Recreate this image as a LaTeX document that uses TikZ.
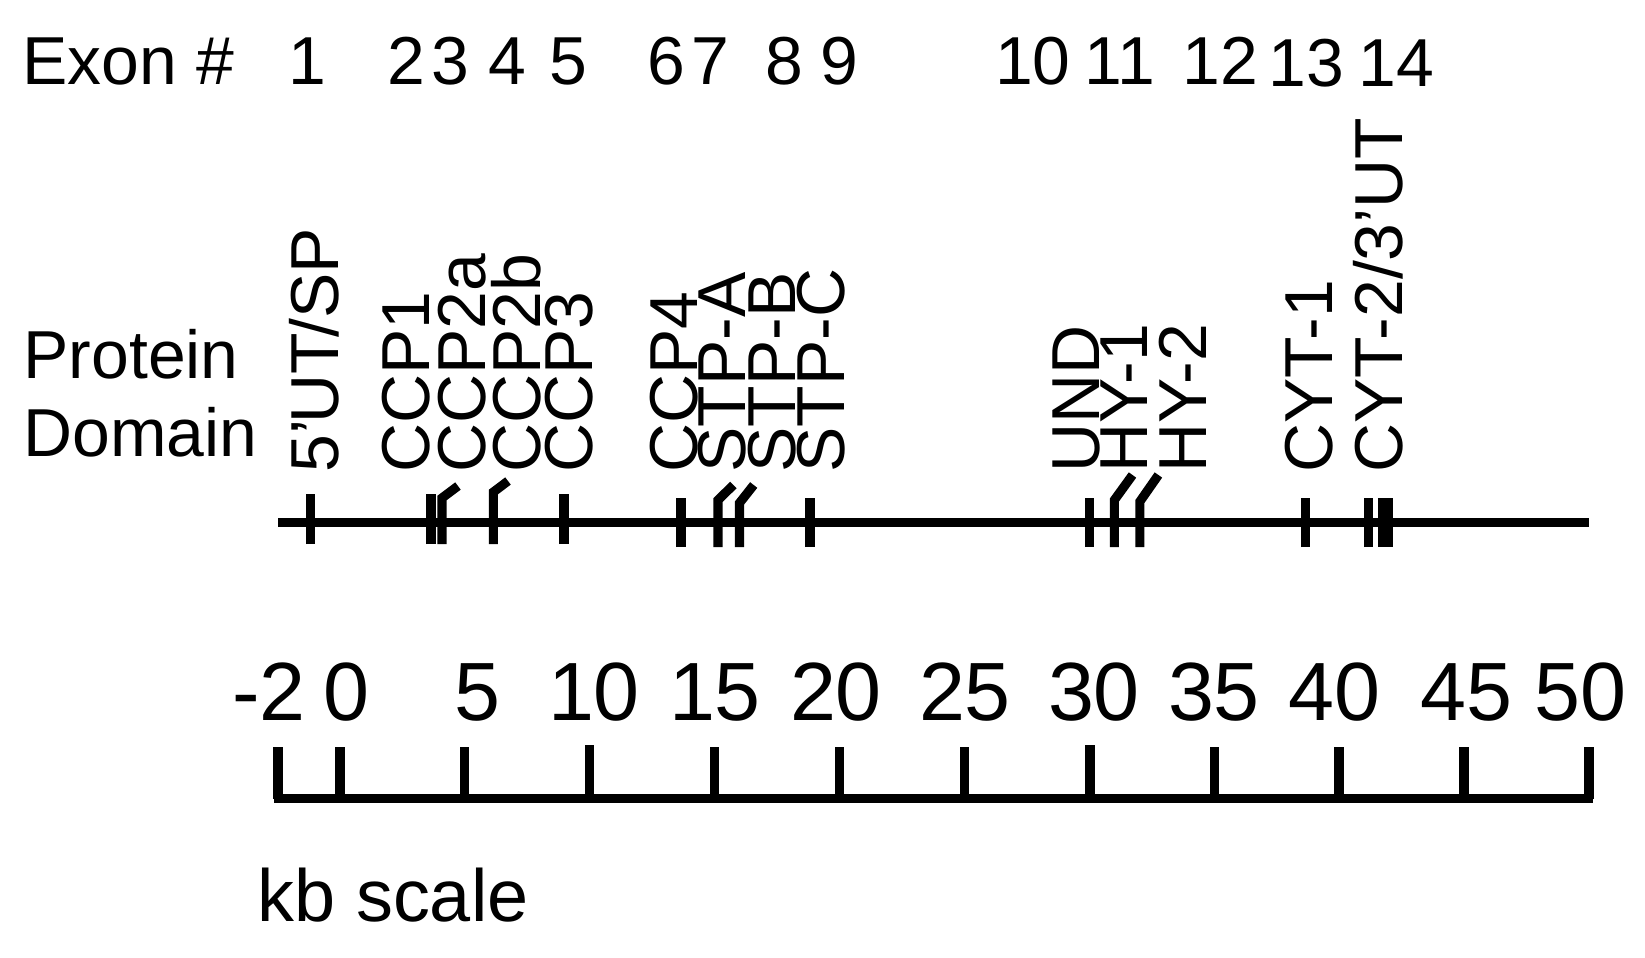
\documentclass[tikz,border=0pt]{standalone}
\usepackage{fontspec}
\setmainfont{Liberation Sans}
\newcommand{\dfont}{\fontsize{19.3}{23}\selectfont}
\newcommand{\afont}{\fontsize{23.5}{28}\selectfont}
\newcommand{\kfont}{\fontsize{21}{25}\selectfont}
\tikzset{
    tk/.style={line width=2.6pt},
    dom/.style={rotate=90, anchor=base west, inner sep=0pt, font=\dfont},
    exn/.style={anchor=base, inner sep=0pt, font=\dfont},
    lbl/.style={anchor=base west, inner sep=0pt, font=\dfont},
    kbn/.style={anchor=base, inner sep=0pt, font=\afont}
}
\begin{document}
\begin{tikzpicture}[x=0.01cm, y=-0.01cm]
\useasboundingbox (0,0) rectangle (1645,957);
% row titles
\node[lbl] (exon) at (22,84) {Exon \#};
\node[lbl] (prot) at (23,378) {Protein};
\node[lbl] (domn) at (23,456) {Domain};
% exon numbers
\node[exn] (e1) at (307,84) {1};
\node[exn] (e2) at (406,84) {2};
\node[exn] (e3) at (450,84) {3};
\node[exn] (e4) at (507,84) {4};
\node[exn] (e5) at (568,84) {5};
\node[exn] (e6) at (666,84) {6};
\node[exn] (e7) at (710,84) {7};
\node[exn] (e8) at (784,84) {8};
\node[exn] (e9) at (839,84) {9};
\node[exn] (e10) at (1033,84) {10};
\node[exn] (e11) at (1120,84) {11};
\node[exn] (e12) at (1220,84) {12};
\node[exn] (e13) at (1306,86.5) {13};
\node[exn] (e14) at (1396,86.5) {14};
% protein domains
\node[dom] (dSP) at (338,473) {5'\kern-0.06em UT\kern-0.07em/SP};
\node[dom] (dCCP1) at (429.5,473) {CCP1};
\node[dom] (dCCP2a) at (485,473) {CCP2a};
\node[dom] (dCCP2b) at (540.5,473) {CCP2b};
\node[dom] (dCCP3) at (592,473) {CCP3};
\node[dom] (dCCP4) at (697.5,473) {CCP4};
\node[dom] (dSTPA) at (745,473) {STP-A};
\node[dom] (dSTPB) at (795,473) {STP-B};
\node[dom] (dSTPC) at (844.5,473) {STP-C};
\node[dom] (dUND) at (1099,473) {UND};
\node[dom] (dHY1) at (1147.5,473) {HY-1};
\node[dom] (dHY2) at (1206,473) {HY-2};
\node[dom] (dCYT1) at (1332.5,473) {CYT-1};
\node[dom] (dCYT2) at (1402.5,473) {CYT-2/3'UT};
% gene line
\draw[tk] (278,522.8) -- (1589,522.8); % main line
\draw[tk] (310.5,544) -- (310.5,494); % 5'UT/SP
\draw[tk] (431,544) -- (431,494); % CCP1
\draw[tk] (442,544) -- (442,498) -- (458,486); % CCP2a
\draw[tk] (493.4,544) -- (493.4,492) -- (508,481); % CCP2b
\draw[tk] (564,544) -- (564,494); % CCP3
\draw[tk] (681,547) -- (681,498); % CCP4
\draw[tk] (718,547) -- (718,500) -- (733.4,485); % STP-A
\draw[tk] (739.5,547) -- (739.5,503) -- (753.7,485); % STP-B
\draw[tk] (810,547) -- (810,498); % STP-C
\draw[tk] (1089.3,547) -- (1089.3,498); % UND
\draw[tk] (1114.4,547) -- (1114.4,500) -- (1132.5,475); % HY-1
\draw[tk] (1139.9,547) -- (1139.9,501.5) -- (1158.4,475); % HY-2
\draw[tk] (1305.7,547) -- (1305.7,498); % CYT-1
\draw[tk] (1368.6,547) -- (1368.6,498); % CYT-2
\fill[] (1377.7,498) rectangle (1392.9,547); % 3'UT block
% kb scale
\draw[tk] (274,798.5) -- (1593,798.5); % scale line
\draw[tk] (278,747) -- (278,798.5); \node[kbn] (s-2) at (269,720) {-2};
\draw[tk] (340,747) -- (340,798.5); \node[kbn] (s0) at (346,720) {0};
\draw[tk] (464.5,747) -- (464.5,798.5); \node[kbn] (s5) at (477,720) {5};
\draw[tk] (589.5,745) -- (589.5,798.5); \node[kbn] (s10) at (594,720) {10};
\draw[tk] (714.5,747) -- (714.5,798.5); \node[kbn] (s15) at (715,720) {15};
\draw[tk] (839.4,747) -- (839.4,798.5); \node[kbn] (s20) at (836,720) {20};
\draw[tk] (964.3,747) -- (964.3,798.5); \node[kbn] (s25) at (965,720) {25};
\draw[tk] (1090,745) -- (1090,798.5); \node[kbn] (s30) at (1094,720) {30};
\draw[tk] (1214.2,747) -- (1214.2,798.5); \node[kbn] (s35) at (1214,720) {35};
\draw[tk] (1339,747) -- (1339,798.5); \node[kbn] (s40) at (1334,720) {40};
\draw[tk] (1464,747) -- (1464,798.5); \node[kbn] (s45) at (1466,720) {45};
\draw[tk] (1589,747) -- (1589,798.5); \node[kbn] (s50) at (1580,720) {50};
\node[anchor=base west, inner sep=0pt, font=\kfont] (kb) at (257,921) {kb scale};
\end{tikzpicture}
\end{document}
